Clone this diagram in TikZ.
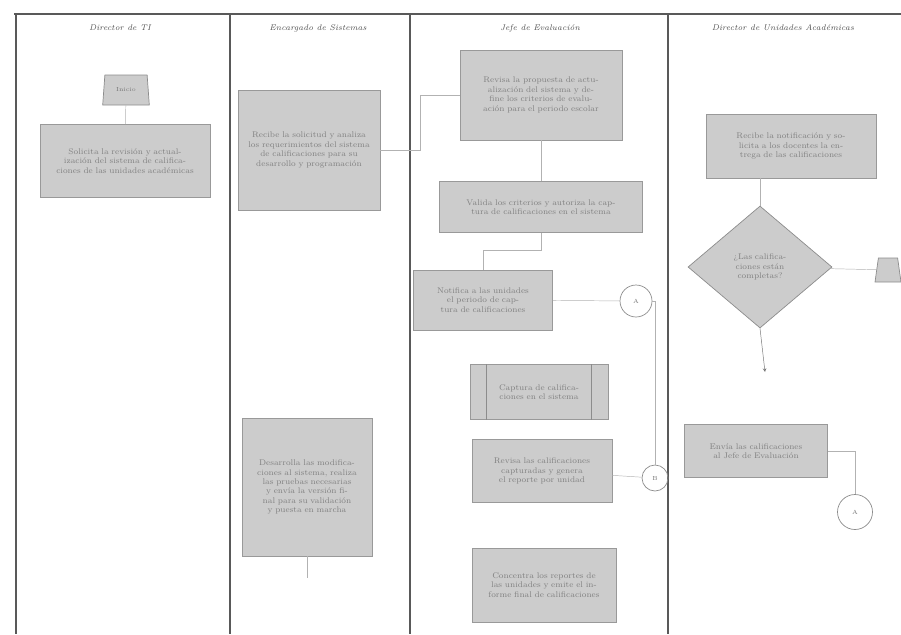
\documentclass[tikz,border=0pt]{standalone}
\usetikzlibrary{shapes.geometric, arrows, positioning}

\begin{document}
\begin{tikzpicture}[
                > = stealth, % arrow head style
                x = 0.3mm, y = -0.3mm, % one unit = one pixel of the sheet
                semithick % line style
            ]

            \tikzstyle{lane}=[draw = black!65, line width = 1.1pt]
            \tikzstyle{head}=[font = \scriptsize\itshape, text = black!70]
            \tikzstyle{proc}=[draw = black!40, fill = black!20, rectangle,
            inner sep = 2pt, font = \scriptsize, text = black!50, align = center]
            \tikzstyle{trap}=[draw = black!45, fill = black!20, trapezium,
            trapezium angle = 80, trapezium stretches = true, inner sep = 1pt,
            font = \tiny, text = black!55]
            \tikzstyle{dec}=[draw = black!45, fill = black!20, diamond,
            inner sep = 0pt, font = \scriptsize, text = black!50, align = center]
            \tikzstyle{conn}=[draw = black!45, circle, inner sep = 0pt,
            font = \tiny, text = black!55]
            \tikzstyle{line}=[draw = black!30, thin]

            \useasboundingbox (0,0) rectangle (901,634);

            % lanes
            \draw[lane] (14,14) -- (901,14);
            \draw[lane] (16,14) -- (16,634); \draw[lane] (230,14) -- (230,634);
            \draw[lane] (410,14) -- (410,634); \draw[lane] (668,14) -- (668,634);

            \node (h1) [head] at (120,28) {Director de TI};
            \node (h2) [head] at (318,28) {Encargado de Sistemas};
            \node (h3) [head] at (540,28) {Jefe de Evaluación};
            \node (h4) [head] at (783,28) {Director de Unidades Académicas};

            % Director de TI
            \node (t11) [trap, minimum width = 14mm, minimum height = 9mm]
            at (126,90) {Inicio};
            \node (b11) [proc, minimum width = 51mm, minimum height = 21.9mm,
            text width = 46mm] at (125,161) {Solicita la revisión y
            actualización del sistema de calificaciones de las unidades
            académicas};

            % Encargado de Sistemas
            \node (b21) [proc, minimum width = 42.6mm, minimum height = 36mm,
            text width = 38mm] at (309,150) {Recibe la solicitud y analiza
            los requerimientos del sistema de calificaciones para su
            desarrollo y programación};
            \node (b22) [proc, minimum width = 39mm, minimum height = 41.4mm,
            text width = 34mm] at (307,487) {Desarrolla las modificaciones
            al sistema, realiza las pruebas necesarias y envía la versión
            final para su validación y puesta en marcha};

            % Jefe de Evaluación
            \node (b31) [proc, minimum width = 48.6mm, minimum height = 27mm,
            text width = 44mm] at (541,95) {Revisa la propuesta de
            actualización del sistema y define los criterios de evaluación
            para el periodo escolar};
            \node (b32) [proc, minimum width = 60.9mm, minimum height = 15.3mm,
            text width = 56mm] at (541,207) {Valida los criterios y autoriza
            la captura de calificaciones en el sistema};
            \node (b33) [proc, minimum width = 41.7mm, minimum height = 18mm,
            text width = 37mm] at (483,300) {Notifica a las unidades el
            periodo de captura de calificaciones};
            \node (c31) [conn, minimum size = 9.6mm] at (636,301) {A};
            \node (b34) [proc, minimum width = 41.4mm, minimum height = 16.5mm,
            text width = 28mm] at (539,392) {Captura de calificaciones en
            el sistema};
            \draw[black!45] ([xshift = 5mm]b34.north west) --
            ([xshift = 5mm]b34.south west);
            \draw[black!45] ([xshift = -5mm]b34.north east) --
            ([xshift = -5mm]b34.south east);
            \node (b35) [proc, minimum width = 42mm, minimum height = 18.9mm,
            text width = 37mm] at (542,471) {Revisa las calificaciones
            capturadas y genera el reporte por unidad};
            \node (c32) [conn, minimum size = 7.8mm] at (655,478) {B};
            \node (b36) [proc, minimum width = 43.2mm, minimum height = 22.2mm,
            text width = 39mm] at (544,585) {Concentra los reportes de las
            unidades y emite el informe final de calificaciones};

            % Director de Unidades Académicas
            \node (b41) [proc, minimum width = 51mm, minimum height = 19.2mm,
            text width = 46mm] at (791,146) {Recibe la notificación y
            solicita a los docentes la entrega de las calificaciones};
            \node (d41) [dec, minimum width = 43.2mm, minimum height = 36.6mm,
            text width = 20mm] at (760,267) {¿Las calificaciones están
            completas?};
            \node (t41) [trap, minimum width = 7.8mm, minimum height = 7.2mm]
            at (888,270) {};
            \node (b42) [proc, minimum width = 42.9mm, minimum height = 15.9mm,
            text width = 38mm] at (756,451) {Envía las calificaciones al
            Jefe de Evaluación};
            \node (c41) [conn, minimum size = 10.5mm] at (855,512) {A};
            \coordinate (e41) at (765,372);
            \coordinate (e22) at (307,578);

            % connectors
            \path[line] (t11) edge (b11);
            \draw[line] (b21.east) -- (420,150) |- (b31.west);
            \path[line] (b31) edge (b32);
            \draw[line] (b32.south) -- ++(0,17) -| (b33.north);
            \path[line] (b33) edge (c31);
            \draw[line] (c31.east) -| (c32.north);
            \path[line] (b35) edge (c32);
            \path[line] (b22) edge (e22);
            \draw[line] (d41.north |- b41.south) -- (d41.north);
            \path[line] (d41) edge (t41);
            \draw[line, ->, black!55] (d41.south) -- (e41);
            \draw[line] (b42.east) -| (c41.north);

        \end{tikzpicture}
\end{document}
